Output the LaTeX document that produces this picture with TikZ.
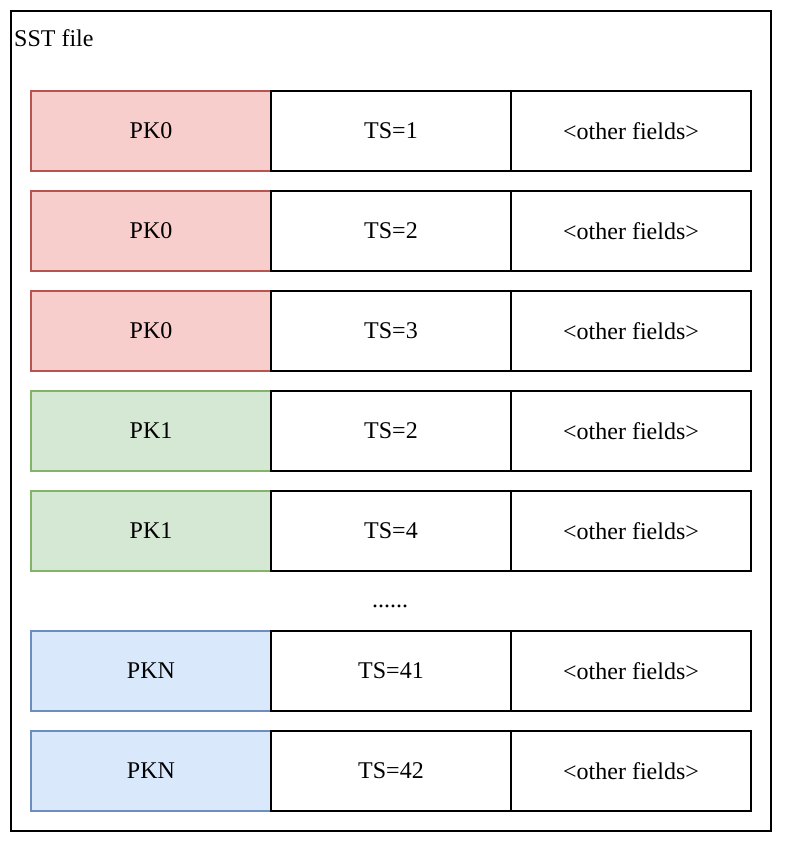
\documentclass[tikz,border=0pt]{standalone}
\usepackage{fontspec}
\setmainfont{Liberation Serif}
\usetikzlibrary{positioning}
\definecolor{redfill}{HTML}{F8CECC}
\definecolor{redline}{HTML}{B85450}
\definecolor{greenfill}{HTML}{D5E8D4}
\definecolor{greenline}{HTML}{82B366}
\definecolor{bluefill}{HTML}{DAE8FC}
\definecolor{blueline}{HTML}{6C8EBF}
\tikzset{
  cell/.style={draw, line width=2pt, minimum width=240pt, minimum height=80pt,
    inner sep=0pt, outer sep=0pt, anchor=north west, font=\fontsize{24}{28}\selectfont},
  pkred/.style={cell, fill=redfill, draw=redline},
  pkgreen/.style={cell, fill=greenfill, draw=greenline},
  pkblue/.style={cell, fill=bluefill, draw=blueline},
}
\begin{document}
\begin{tikzpicture}[x=1pt,y=-1pt]
	\useasboundingbox (0,0) rectangle (784,842);
	\draw [line width=2pt] (11,11) rectangle (771,831);
	\node (title) [anchor=west, inner sep=0pt, font=\fontsize{24}{28}\selectfont] at (14,38) {SST file};
	
	% one row per record
	\foreach \y/\pk/\ts/\col [count=\i] in {91/PK0/1/pkred, 191/PK0/2/pkred, 291/PK0/3/pkred,
	    391/PK1/2/pkgreen, 491/PK1/4/pkgreen, 631/PKN/41/pkblue, 731/PKN/42/pkblue} {
		\node (pk\i) [\col] at (31,\y) {\pk};
		\node (ts\i) [cell] at (271,\y) {TS=\ts};
		\node (of\i) [cell] at (511,\y) {<other fields>};
	}
	
	\node (dots) [font=\fontsize{24}{28}\selectfont] at (390,606) {......};
\end{tikzpicture}
\end{document}
